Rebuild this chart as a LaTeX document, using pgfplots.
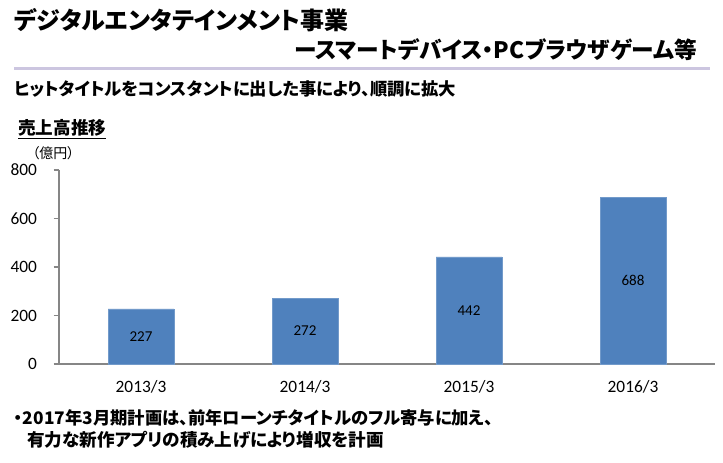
\documentclass[border=0pt]{standalone}
\usepackage{pgfplots}
\pgfplotsset{compat=1.18}
\usepackage{fontspec}
\setmainfont{Carlito}
\newfontfamily\jp[RawFeature=+palt]{Noto Sans CJK JP}
\definecolor{barblue}{HTML}{4F81BD}
\definecolor{axgray}{HTML}{868686}
\definecolor{lav}{RGB}{204,198,224}
\begin{document}
\begin{tikzpicture}[x=0.75pt,y=0.75pt]
\useasboundingbox (0,0) rectangle (723,462);
\node[anchor=west,inner sep=0] at (14,442) {\jp\bfseries\fontsize{18}{20}\selectfont デジタルエンタテインメント事業};
\node[anchor=east,inner sep=0] at (697,412) {\jp\bfseries\fontsize{17}{20}\selectfont ースマートデバイス・PCブラウザゲーム等};
\draw[lav,line width=2.25pt] (14,394) -- (710,394);
\node[anchor=west,inner sep=0] at (14,373) {\jp\bfseries\fontsize{13}{15}\selectfont ヒットタイトルをコンスタントに出した事により、順調に拡大};
\node[anchor=west,inner sep=0] at (18,333) {\jp\bfseries\fontsize{13.2}{15}\selectfont\underline{売上高推移}};
\node[anchor=west,inner sep=0] at (32,309) {\jp\fontsize{10.5}{12}\selectfont （億円）};
\begin{axis}[
  at={(44.25pt,73.5pt)}, anchor=south west,
  scale only axis, width=492pt, height=145.5pt,
  xmin=-0.5, xmax=3.5, ymin=0, ymax=800,
  axis lines*=left,
  axis line style={axgray, line width=0.8pt},
  xtick={0,1,2,3}, xticklabels={2013/3,2014/3,2015/3,2016/3},
  extra x ticks={-0.5,0.5,1.5,2.5,3.5},
  extra x tick labels={},
  extra x tick style={major tick length=5pt, tick style={axgray, line width=0.8pt}},
  ytick={0,200,400,600,800},
  major tick length=4pt,
  tick align=outside,
  x tick style={draw=none},
  y tick style={axgray, line width=0.8pt},
  /pgf/number format/assume math mode=true,
  tick label style={font=\fontsize{13}{15}\selectfont},
  xticklabel style={yshift=-5pt},
  yticklabel style={xshift=-9pt},
  clip=false,
]
\addplot[ybar, bar width=0.4, fill=barblue, draw=barblue!80!white,
  nodes near coords,
  visualization depends on=y \as \rawy,
  every node near coord/.append style={anchor=center, font=\fontsize{11.3}{13}\selectfont, shift={(axis direction cs:0,-\rawy/2)}},
] coordinates {(0,227) (1,272) (2,442) (3,688)};
\end{axis}
\node[anchor=west,inner sep=0] at (14,44) {\jp\bfseries\fontsize{13}{15}\selectfont ・2017年3月期計画は、前年ローンチタイトルのフル寄与に加え、};
\node[anchor=west,inner sep=0] at (27,22) {\jp\bfseries\fontsize{13.2}{15}\selectfont 有力な新作アプリの積み上げにより増収を計画};
\end{tikzpicture}
\end{document}
